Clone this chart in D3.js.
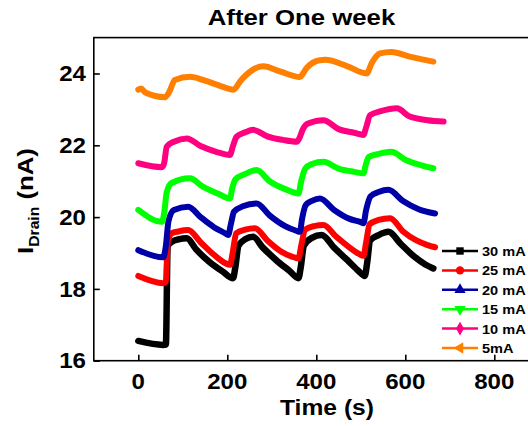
<!DOCTYPE html>
<html><head><meta charset="utf-8">
<script src="https://cdn.jsdelivr.net/npm/d3@7"></script>
<style>body{margin:0;background:#fff}svg{display:block}text{font-family:"Liberation Sans",Arial,sans-serif;font-weight:bold;fill:#000}</style>
</head><body>
<svg id="c" width="528" height="426"></svg>
<script>
const title = "After One week";
const xLabel = "Time (s)";
const xTicks = [0, 200, 400, 600, 800];
const yTicks = [16, 18, 20, 22, 24];
const seriesNames = ["30 mA", "25 mA", "20 mA", "15 mA", "10 mA", "5mA"];
const seriesColors = ["#000000", "#ff0000", "#0000a8", "#00ff00", "#ff0080", "#ff8000"];
const seriesSymbols = ["square", "circle", "triangle", "triDown", "diamond", "triLeft"];

const t30 = [0,56,62,66,75,90,109,130,160,190,213,218,225,240,258,280,310,340,360,365,372,390,412,440,470,495,509,514,521,540,562,590,620,645,663];
const v30 = [16.55,16.44,16.45,19.2,19.31,19.38,19.41,19.1,18.75,18.48,18.30,18.6,19.2,19.38,19.45,19.15,18.8,18.5,18.30,18.6,19.2,19.42,19.50,19.15,18.8,18.5,18.36,18.7,19.35,19.5,19.59,19.25,18.9,18.68,18.57];

const t25 = [0,56,62,66,75,90,112,140,170,195,206,212,220,240,262,290,320,345,360,366,375,395,416,445,475,495,506,512,520,540,566,595,625,650,667];
const v25 = [18.36,18.16,18.2,19.3,19.55,19.6,19.64,19.3,18.95,18.72,18.67,19.0,19.55,19.65,19.69,19.35,19.05,18.9,18.85,19.2,19.65,19.75,19.78,19.45,19.15,18.98,18.92,19.3,19.8,19.92,19.97,19.6,19.35,19.22,19.16];

const t20 = [0,56,62,68,80,112,140,170,195,202,208,215,235,266,295,330,355,363,368,376,390,408,440,475,500,506,512,522,540,562,595,630,667];
const v20 = [19.08,18.88,19.2,19.9,20.2,20.29,20.0,19.72,19.55,19.5,19.8,20.15,20.3,20.38,20.05,19.75,19.62,19.59,19.95,20.33,20.45,20.52,20.2,19.95,19.86,19.83,20.2,20.58,20.7,20.76,20.45,20.22,20.1];

const t15 = [0,53,58,64,75,116,145,180,206,211,218,240,266,295,330,360,366,375,390,416,450,485,506,511,518,540,569,600,635,663];
const v15 = [20.2,19.87,20.1,20.7,20.95,21.08,20.85,20.65,20.52,20.8,21.05,21.2,21.31,21.0,20.78,20.66,21.0,21.35,21.48,21.54,21.35,21.26,21.22,21.45,21.68,21.76,21.82,21.6,21.45,21.36];

const t10 = [0,53,58,64,80,109,140,175,206,212,221,240,258,290,325,356,362,370,380,416,450,485,506,512,521,545,581,610,650,686];
const v10 = [21.5,21.39,21.5,21.96,22.1,22.19,21.98,21.82,21.73,21.95,22.24,22.36,22.43,22.25,22.15,22.1,22.2,22.45,22.6,22.7,22.45,22.35,22.29,22.5,22.84,22.95,23.03,22.8,22.7,22.66];

const t5 = [0,6,16,60,70,82,116,150,185,214,230,251,281,320,363,370,378,408,420,470,513,525,543,569,610,635,663];
const v5 = [23.55,23.58,23.47,23.34,23.5,23.82,23.91,23.8,23.65,23.55,23.8,24.05,24.2,24.05,23.9,24.0,24.15,24.37,24.38,24.2,24.0,24.3,24.56,24.6,24.47,24.4,24.33];

const seriesT = [t30, t25, t20, t15, t10, t5];
const seriesV = [v30, v25, v20, v15, v10, v5];

const svg = d3.select("#c");
const x = d3.scaleLinear().domain([-100, 900]).range([93.8, 538.8]);
const y = d3.scaleLinear().domain([16, 25]).range([360.7, 37.6]);
const SX = 1.12;

function txt(g, s, px, py, size, anchor, rot) {
  return g.append("text")
    .attr("transform", `translate(${px},${py})` + (rot ? ` rotate(${rot})` : "") + ` scale(${SX},1)`)
    .attr("text-anchor", anchor).style("font-size", size + "px").text(s);
}

// curves
const line = d3.line().x(d => x(d[0])).y(d => y(d[1])).curve(d3.curveMonotoneX);
const gC = svg.append("g");
seriesT.forEach((ts, i) => {
  const pts = ts.map((t, k) => [t, seriesV[i][k]]);
  gC.append("path").attr("d", line(pts)).attr("fill", "none")
    .attr("stroke", seriesColors[i]).attr("stroke-width", i === 0 ? 6.5 : 6)
    .attr("stroke-linejoin", "round").attr("stroke-linecap", "round");
});

// frame
svg.append("rect").attr("x", x(-100)).attr("y", y(25)).attr("width", x(900) - x(-100))
  .attr("height", y(16) - y(25)).attr("fill", "none").attr("stroke", "#000").attr("stroke-width", 1.6);

// axes (inward ticks)
const xAx = d3.axisBottom(x).tickValues(xTicks).tickSizeInner(-6).tickSizeOuter(0).tickFormat("");
const gx = svg.append("g").attr("transform", `translate(0,${y(16)})`).call(xAx);
gx.select(".domain").remove();
gx.selectAll("line").attr("stroke", "#000").attr("stroke-width", 1.6);
const yAx = d3.axisLeft(y).tickValues(yTicks).tickSizeInner(-6).tickSizeOuter(0).tickFormat("");
const gy = svg.append("g").attr("transform", `translate(${x(-100)},0)`).call(yAx);
gy.select(".domain").remove();
gy.selectAll("line").attr("stroke", "#000").attr("stroke-width", 1.6);

// tick labels
const gL = svg.append("g");
xTicks.forEach(v => txt(gL, String(v), x(v), 389, 21.5, "middle"));
yTicks.forEach(v => txt(gL, String(v), 86, y(v) + 7.7, 21.5, "end"));

// titles
txt(svg, title, 301.5, 25, 23, "middle");
txt(svg, xLabel, 327, 415, 22, "middle");
const yl = svg.append("text")
  .attr("transform", `translate(33,201) rotate(-90) scale(${SX},1)`)
  .attr("text-anchor", "middle").style("font-size", "23px");
yl.append("tspan").text("I");
yl.append("tspan").attr("dy", 6).style("font-size", "14px").text("Drain");
yl.append("tspan").attr("dy", -6).text(" (nA)");

// legend
const symMap = {square: d3.symbolSquare, circle: d3.symbolCircle, triangle: d3.symbolTriangle,
  triDown: d3.symbolTriangle, diamond: d3.symbolDiamond, triLeft: d3.symbolTriangle};
const rotMap = {triDown: 180, triLeft: -90};
const gLeg = svg.append("g");
seriesNames.forEach((n, i) => {
  const cy = 251 + i * 19.4;
  gLeg.append("line").attr("x1", 442).attr("x2", 478).attr("y1", cy).attr("y2", cy)
    .attr("stroke", seriesColors[i]).attr("stroke-width", 2.5);
  gLeg.append("path").attr("d", d3.symbol().type(symMap[seriesSymbols[i]]).size(55)())
    .attr("transform", `translate(460,${cy}) rotate(${rotMap[seriesSymbols[i]] || 0})`)
    .attr("fill", seriesColors[i]);
  txt(gLeg, n, 482, cy + 5, 13, "start");
});
</script>
</body></html>
